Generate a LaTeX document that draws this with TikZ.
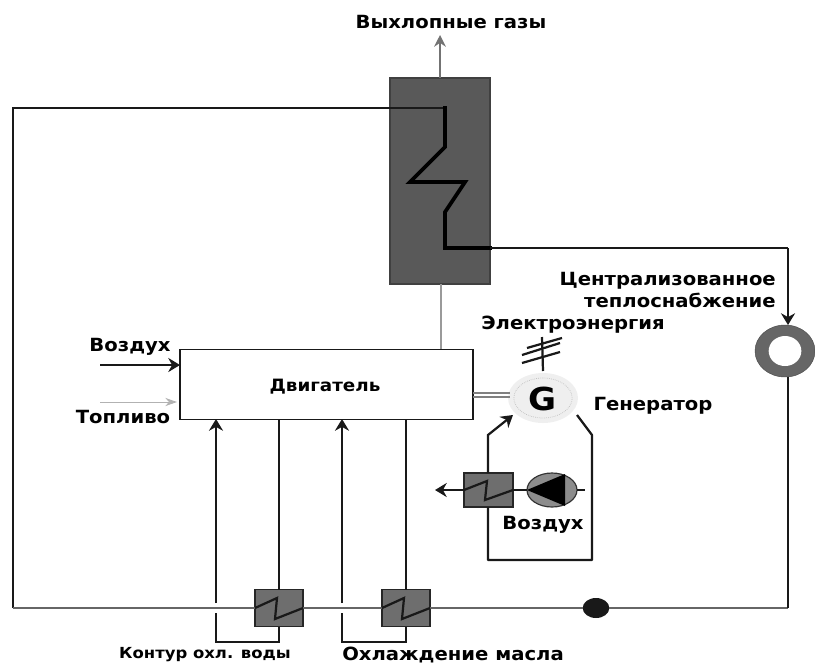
\documentclass[tikz,border=0pt]{standalone}
\usepackage{fontspec}
\setmainfont[FakeStretch=1.08]{DejaVu Sans}
\usetikzlibrary{arrows.meta, positioning, shapes.geometric}

\definecolor{hotgray}{HTML}{595959}
\definecolor{hxgray}{HTML}{6E6E6E}
\definecolor{pipegray}{HTML}{9A9A9A}
\definecolor{gengray}{HTML}{EFEFEF}

\tikzset{
  lbl/.style = {font=\fontsize{15.5}{18.5}\selectfont\bfseries, inner sep=0pt, align=right},
  pipe/.style = {line width=1.9pt, black!90},
  thinpipe/.style = {line width=0.9pt, black!60},
  flow/.style = {pipe, -{Stealth[length=10pt, width=12pt]}},
  hx/.style = {draw=black!85, line width=1.3pt, fill=hxgray, inner sep=0pt, outer sep=0pt,
    minimum width=1.44cm, minimum height=1.11cm},
  coil/.style = {line width=1.9pt, black!90, line join=miter}
}

\begin{document}
\begin{tikzpicture}[x=0.03cm, y=-0.03cm]
  \useasboundingbox (0,0) rectangle (815,665);

  % gas side
  \node (stack) [draw=black!75, fill=hotgray, line width=1pt, inner sep=0pt, outer sep=0pt,
    minimum width=3cm, minimum height=6.18cm] at (440,181) {};
  \node (engine) [draw=black!90, line width=1.3pt, inner sep=0pt, outer sep=0pt,
    minimum width=8.79cm, minimum height=2.1cm] at (326.5,384.5) {};
  \node (enginetxt) [lbl, font=\fontsize{14.5}{17}\selectfont\bfseries] at (325,387) {Двигатель};
  \node (gen) [ellipse, fill=gengray, inner sep=0pt, outer sep=0pt,
    minimum width=2.1cm, minimum height=1.5cm] at (543,398) {};
  \node (genring) [ellipse, draw=black!25, densely dotted, line width=0.6pt, inner sep=0pt,
    minimum width=1.75cm, minimum height=1.2cm] at (543,398) {};
  \node (gentxt) [font=\fontsize{27}{27}\selectfont\bfseries, inner sep=0pt] at (543,399) {G};
  \node (ring) [ellipse, fill=black!60, draw=black!70, inner sep=0pt, outer sep=0pt,
    minimum width=1.8cm, minimum height=1.56cm] at (785,351) {};
  \node (ringhole) [ellipse, fill=white, inner sep=0pt,
    minimum width=0.98cm, minimum height=0.9cm] at (785,351) {};

  % heat exchangers
  \node (hxwater) [hx] at (279,608) {};
  \node (hxoil) [hx] at (406,608) {};
  \node (hxair) [hx, minimum width=1.47cm, minimum height=1.02cm] at (488.5,490) {};
  \node (fan) [ellipse, fill=black!45, draw=black!80, line width=1pt, inner sep=0pt, outer sep=0pt,
    minimum width=1.5cm, minimum height=1.02cm] at (552,490) {};
  \node (pump) [ellipse, fill=black!90, inner sep=0pt, outer sep=0pt,
    minimum width=0.8cm, minimum height=0.6cm] at (596,608) {};

  % labels
  \node (gasout) [lbl] at (451,22) {Выхлопные газы};
  \node (heating) [lbl, anchor=east] at (776,290) {Централизованное\\теплоснабжение};
  \node (power) [lbl] at (573,325) {Электроэнергия};
  \node (gentitle) [lbl] at (653,406) {Генератор};
  \node (airin) [lbl] at (130,347) {Воздух};
  \node (fuelin) [lbl] at (123,417) {Топливо};
  \node (airout) [lbl] at (543,525) {Воздух};
  \node (water) [lbl, font=\fontsize{13}{16}\selectfont\bfseries] at (205,655) {Контур охл. воды};
  \node (oil) [lbl] at (453,655) {Охлаждение масла};

  % free ends and bends
  \coordinate (gastop) at (440,35);
  \coordinate (coilin) at (13,108);
  \coordinate (coila) at (445,108);
  \coordinate (coilb) at (445,147);
  \coordinate (coilc) at (410,182);
  \coordinate (coild) at (465,182);
  \coordinate (coile) at (445,212);
  \coordinate (coilf) at (445,248);
  \coordinate (coilg) at (490,248);
  \coordinate (hotbend) at (788,248);
  \coordinate (cold) at (13,608);
  \coordinate (coldr) at (788,608);
  \coordinate (airstart) at (100,365);
  \coordinate (airend) at (engine.west |- airstart);
  \coordinate (fuelstart) at (100,402);
  \coordinate (fuelend) at (177,402);
  \coordinate (watergapl) at (216,613);
  \coordinate (watergapu) at (216,603);
  \coordinate (watertop) at (216,419);
  \coordinate (oilgapl) at (342,613);
  \coordinate (oilgapu) at (342,603);
  \coordinate (oiltop) at (342,419);
  \coordinate (waterbot) at (279,642);
  \coordinate (oilbot) at (406,642);
  \coordinate (waterout) at (279,419);
  \coordinate (oilout) at (406,419);

  % hot water circuit
  \draw [black!55, line width=1.4pt, -{Stealth[length=10pt, width=10pt]}] (stack.north) -- (gastop);
  \draw [pipegray, line width=1.4pt] (stack.south -| 441,0) -- (441,349);
  \draw [pipe, line join=miter] (cold) -- (coilin) -- (coila);
  \draw [line width=3.2pt, line join=miter, line cap=rect] (coila) -- (coilb) -- (coilc) -- (coild) -- (coile) -- (coilf) -- (coilg);
  \draw [pipe, line width=2.4pt] (coilg) -- (hotbend);
  \draw [flow] (hotbend) -- (ring.north -| hotbend);
  \draw [thinpipe] (cold) -- (hxwater.west);
  \draw [thinpipe] (hxwater.east) -- (hxoil.west);
  \draw [thinpipe] (hxoil.east) -- (pump.west);
  \draw [thinpipe] (pump.east) -- (coldr);
  \draw [pipe] (coldr) -- (ring.south -| coldr);

  % inlets
  \draw [flow] (airstart) -- (airend);
  \draw [black!30, line width=0.8pt, -{Stealth[length=10pt, width=7pt]}] (fuelstart) -- (fuelend);

  % cooling loops
  \draw [flow] (watergapu) -- (watertop);
  \draw [pipe] (watergapl) |- (waterbot) -- (hxwater.south);
  \draw [pipe] (hxwater.north) -- (waterout);
  \draw [flow] (oilgapu) -- (oiltop);
  \draw [pipe] (oilgapl) |- (oilbot) -- (hxoil.south);
  \draw [pipe] (hxoil.north) -- (oilout);
  \draw [coil] (hxwater.west) -- (277,598) -- (275,619) -- (hxwater.east);
  \draw [coil] (hxoil.west) -- (404,598) -- (402,619) -- (hxoil.east);

  % generator
  \draw [gray, line width=1pt] (engine.east |- 0,393) -- (510,393);
  \draw [gray, line width=1pt] (engine.east |- 0,397) -- (510,397);
  \draw [pipe] (gen.north) ++(0,-2) -- (542,337);
  \draw [pipe] (522,363) -- (560,352);
  \draw [pipe] (522,355) -- (560,343);
  \draw [pipe] (527,348) -- (562,338);

  % air cooler
  \draw [flow] (hxair.north -| 488,0) -- (488,435) -- (513,415);
  \draw [pipe, line join=round] (hxair.south -| 488,0) -- (488,560) -- (592,560) -- (592,435) -- (577,415);
  \draw [coil] (hxair.west) -- (487,481) -- (485,500) -- (hxair.east);
  \draw [flow] (hxair.west) -- (435,490);
  \draw [pipe] (hxair.east) -- (fan.west);
  \draw [pipe] (fan.east) -- (585,490);
  \fill [black] (527,490) -- (565,474) -- (565,506) -- cycle;
\end{tikzpicture}
\end{document}
